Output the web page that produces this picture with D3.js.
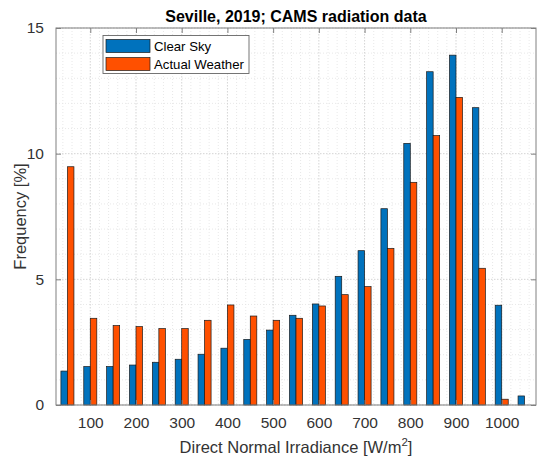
<!DOCTYPE html>
<html><head><meta charset="utf-8">
<script src="https://cdn.jsdelivr.net/npm/d3@7"></script>
<style>body{margin:0;background:#fff}svg{display:block}text{font-family:"Liberation Sans",Arial,sans-serif}</style>
</head><body><svg id="c" width="550" height="467"></svg>
<script>
const bins = [50,100,150,200,250,300,350,400,450,500,550,600,650,700,750,800,850,900,950,1000,1050];
const clearSky = [1.35,1.53,1.53,1.59,1.70,1.82,2.02,2.26,2.61,2.98,3.57,4.02,5.12,6.14,7.81,10.41,13.26,13.92,11.83,3.97,0.36];
const actualWeather = [9.48,3.45,3.16,3.12,3.04,3.04,3.37,3.98,3.54,3.37,3.45,3.94,4.39,4.71,6.23,8.86,10.72,12.24,5.44,0.23,0];
const seriesNames = ["Clear Sky","Actual Weather"];
const xTicks = [100,200,300,400,500,600,700,800,900,1000];
const yTicks = [0,5,10,15];
const titleText = "Seville, 2019; CAMS radiation data";

const colors = ["#0072BD","#FF5000"];
const svg = d3.select("#c");
const L=56,R=536,T=28,B=405;
const x = d3.scaleLinear().domain([25,1075]).range([L,R]);
const y = d3.scaleLinear().domain([0,15]).range([B,T]);
const barW = 14.25;

// grid
const g = svg.append("g");
const minorX = d3.range(40,1075,20).filter(v=>v%100!==0);
const minorY = d3.range(1,15,1).filter(v=>v%5!==0);
g.selectAll(".mx").data(minorX).enter().append("line")
 .attr("x1",d=>x(d)).attr("x2",d=>x(d)).attr("y1",T).attr("y2",B)
 .attr("stroke","#e2e2e2").attr("stroke-width",0.8).attr("stroke-dasharray","1,2");
g.selectAll(".my").data(minorY).enter().append("line")
 .attr("y1",d=>y(d)).attr("y2",d=>y(d)).attr("x1",L).attr("x2",R)
 .attr("stroke","#e2e2e2").attr("stroke-width",0.8).attr("stroke-dasharray","1,2");
g.selectAll(".Mx").data(xTicks).enter().append("line")
 .attr("x1",d=>x(d)).attr("x2",d=>x(d)).attr("y1",T).attr("y2",B)
 .attr("stroke","#d0d0d0").attr("stroke-width",0.9).attr("stroke-dasharray","1.5,1.5");
g.selectAll(".My").data(yTicks).enter().append("line")
 .attr("y1",d=>y(d)).attr("y2",d=>y(d)).attr("x1",L).attr("x2",R)
 .attr("stroke","#d0d0d0").attr("stroke-width",0.9).attr("stroke-dasharray","1.5,1.5");

// bars
[clearSky,actualWeather].forEach((vals,si)=>{
  svg.append("g").selectAll("rect").data(bins.map((b,i)=>({b,v:vals[i]}))).enter().append("rect")
   .attr("x",d=>x(d.b + (si===0?-barW:0)))
   .attr("width",x(25+barW)-x(25))
   .attr("y",d=>y(d.v)).attr("height",d=>y(0)-y(d.v))
   .attr("fill",colors[si]).attr("stroke","#1a1a1a").attr("stroke-width",0.7);
});

// axes box & ticks
const axCol="#808080", txtCol="#333";
svg.append("rect").attr("x",L).attr("y",T).attr("width",R-L).attr("height",B-T)
 .attr("fill","none").attr("stroke",axCol).attr("stroke-width",1);
const xb = d3.axisBottom(x).tickValues(xTicks).tickFormat(d3.format("d")).tickSizeInner(-5).tickSizeOuter(0).tickPadding(12);
const xt = d3.axisTop(x).tickValues(xTicks).tickSizeInner(-5).tickSizeOuter(0).tickFormat("");
const yl = d3.axisLeft(y).tickValues(yTicks).tickFormat(d3.format("d")).tickSizeInner(-5).tickSizeOuter(0).tickPadding(12);
const yr = d3.axisRight(y).tickValues(yTicks).tickSizeInner(-5).tickSizeOuter(0).tickFormat("");
[[xb,`translate(0,${B})`],[xt,`translate(0,${T})`],[yl,`translate(${L},0)`],[yr,`translate(${R},0)`]].forEach(([a,tr])=>{
  const ag = svg.append("g").attr("transform",tr).call(a);
  ag.select(".domain").remove();
  ag.selectAll("line").attr("stroke",axCol);
  ag.selectAll("text").attr("fill",txtCol).style("font-size","15.5px").style("font-family","'Liberation Sans',Arial,sans-serif");
});

// title
svg.append("text").attr("x",(L+R)/2).attr("y",22).attr("text-anchor","middle")
 .style("font-size","16px").style("font-weight","bold").attr("fill","#000").text(titleText);
// x label
const xl = svg.append("text").attr("x",(L+R)/2).attr("y",453).attr("text-anchor","middle")
 .style("font-size","16.5px").attr("fill",txtCol);
xl.append("tspan").text("Direct Normal Irradiance [W/m");
xl.append("tspan").attr("dy",-7).style("font-size","11.5px").text("2");
xl.append("tspan").attr("dy",7).text("]");
// y label
svg.append("text").attr("transform",`translate(26,${(T+B)/2}) rotate(-90)`).attr("text-anchor","middle")
 .style("font-size","16.5px").attr("fill",txtCol).text("Frequency [%]");

// legend
const lg = svg.append("g");
lg.append("rect").attr("x",103).attr("y",35.5).attr("width",146).attr("height",38)
 .attr("fill","#fff").attr("stroke","#666").attr("stroke-width",0.9);
seriesNames.forEach((n,i)=>{
  lg.append("rect").attr("x",106).attr("y",39.5+i*18).attr("width",44).attr("height",13)
   .attr("fill",colors[i]).attr("stroke","#1a1a1a").attr("stroke-width",0.7);
  lg.append("text").attr("x",154).attr("y",51+i*18).style("font-size","13.2px").attr("fill","#000").text(n);
});
</script></body></html>
